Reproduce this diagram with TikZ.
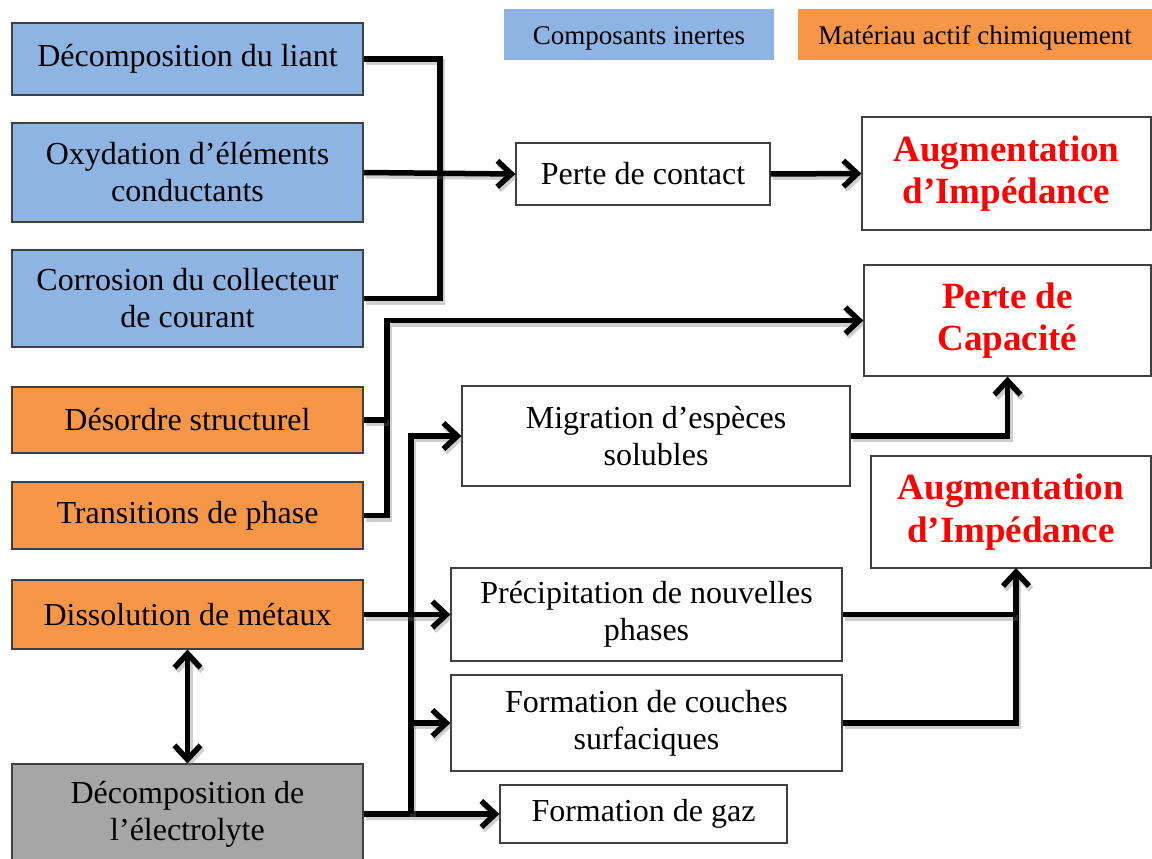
\documentclass[tikz,border=0pt]{standalone}
\usepackage{fontspec}
\setmainfont{Liberation Serif}
\usetikzlibrary{arrows.meta}
\definecolor{inertblue}{HTML}{8EB4E3}
\definecolor{activeorange}{HTML}{F79646}
\definecolor{electrogray}{HTML}{A6A6A6}
\definecolor{boxborder}{HTML}{404040}
\begin{document}
\begin{tikzpicture}[x=1pt,y=-1pt,
  box/.style={draw=boxborder, line width=1.2pt, rectangle, inner sep=0pt, align=center,
    font=\fontsize{32}{37}\selectfont},
  bluebox/.style={box, fill=inertblue},
  orangebox/.style={box, fill=activeorange},
  graybox/.style={box, fill=electrogray},
  whitebox/.style={box, fill=white},
  resultbox/.style={box, fill=white, text=red, font=\fontsize{37}{42.5}\selectfont\bfseries},
  legendbox/.style={rectangle, inner sep=0pt, text height=20pt, text depth=0pt, font=\fontsize{27}{30}\selectfont},
  conn/.style={line width=5.5pt, black, line join=miter,
    preaction={draw=black!55, opacity=0.35, line width=6pt, transform canvas={shift={(2pt,-3pt)}}}},
  arr/.style={conn, -{Straight Barb[length=14pt,width=26pt]}},
  dblarr/.style={conn, {Straight Barb[length=14pt,width=26pt]}-{Straight Barb[length=14pt,width=26pt]}}
]
\useasboundingbox (0,0) rectangle (1152,859);

% legend
\node[legendbox, fill=inertblue, minimum width=270pt, minimum height=51pt] (leginert) at (639,34.5) {Composants inertes};
\node[legendbox, fill=activeorange, minimum width=354pt, minimum height=51pt] (legactive) at (975,34.5) {Matériau actif chimiquement};

% left column
\node[bluebox, minimum width=351pt, minimum height=72pt] (liant) at (187.5,59) {Décomposition du liant};
\node[bluebox, minimum width=351pt, minimum height=99pt] (oxyd) at (187.5,172.5) {Oxydation d’éléments\\conductants};
\node[bluebox, minimum width=351pt, minimum height=97pt] (corr) at (187.5,298.5) {Corrosion du collecteur\\de courant};
\node[orangebox, minimum width=351pt, minimum height=66pt] (desordre) at (187.5,420) {Désordre structurel};
\node[orangebox, minimum width=351pt, minimum height=67pt] (trans) at (187.5,515.5) {Transitions de phase};
\node[orangebox, minimum width=351pt, minimum height=69pt] (dissol) at (187.5,614.5) {Dissolution de métaux};
\node[graybox, minimum width=351pt, minimum height=100pt] (electro) at (187.5,814) {Décomposition de\\l’électrolyte};

% middle column
\node[whitebox, minimum width=254pt, minimum height=62pt] (perte) at (643,174) {Perte de contact};
\node[whitebox, minimum width=388pt, minimum height=100pt] (migr) at (656,436) {Migration d’espèces\\solubles};
\node[whitebox, minimum width=391pt, minimum height=93pt] (precip) at (646.5,614.5) {Précipitation de nouvelles\\phases};
\node[whitebox, minimum width=391pt, minimum height=96pt] (couches) at (646.5,723) {Formation de couches\\surfaciques};
\node[whitebox, minimum width=287pt, minimum height=58pt] (gaz) at (643.5,814) {Formation de gaz};

% results
\node[resultbox, minimum width=289pt, minimum height=113pt] (aug1) at (1006.5,173.5) {Augmentation\\d’Impédance};
\node[resultbox, minimum width=287pt, minimum height=111pt] (capa) at (1007.5,320.5) {Perte de\\Capacité};
\node[resultbox, minimum width=280pt, minimum height=112pt] (aug2) at (1011,512) {Augmentation\\d’Impédance};

% junction coordinates
\coordinate (j1) at (440,174);
\coordinate (j2) at (387,320.5);
\coordinate (v1) at (411,814);
\coordinate (a2) at (1016,568);

% inert components -> perte de contact
\draw[conn] (liant.east) -| (j1) |- (corr.east);
\draw[arr] (oxyd.east) -- (perte.west);
\draw[arr] (perte.east) -- (aug1.west);

% structural -> capacite
\draw[arr] (trans.east) -| (j2) -- (capa.west);
\draw[conn] (desordre.east) -- (desordre.east -| j2);

% electrolyte
\draw[arr] (electro.east) -- (gaz.west);
\draw[arr] (v1) |- (migr.west);
\draw[arr] (v1 |- couches.west) -- (couches.west);
\draw[arr] (dissol.east) -- (precip.west);
\draw[dblarr] (dissol.south) -- (electro.north);

% to results
\draw[arr] (migr.east) -| (capa.south);
\draw[arr] (couches.east) -| (a2);
\draw[conn] (precip.east) -- (precip.east -| a2);
\end{tikzpicture}
\end{document}
